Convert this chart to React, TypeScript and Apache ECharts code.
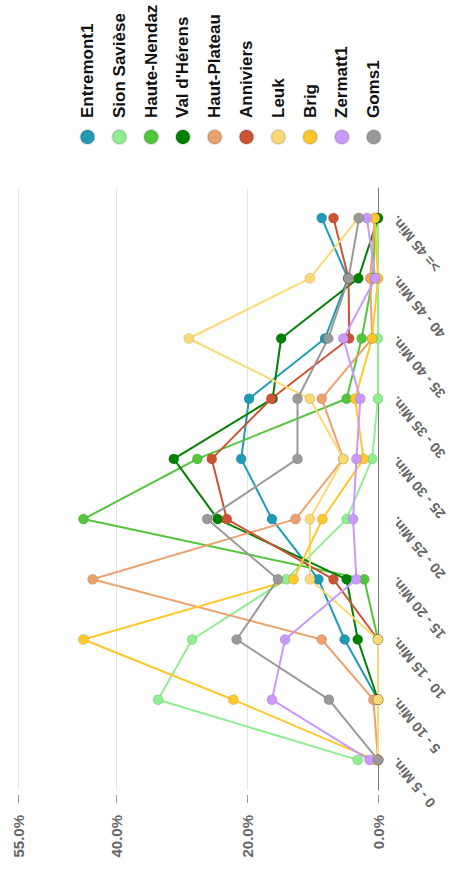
import React, { useEffect, useRef } from "react";
import * as echarts from "echarts";

const categories = [
  "0 - 5 Min.",
  "5 - 10 Min.",
  "10 - 15 Min.",
  "15 - 20 Min.",
  "20 - 25 Min.",
  "25 - 30 Min.",
  "30 - 35 Min.",
  "35 - 40 Min.",
  "40 - 45 Min.",
  ">= 45 Min.",
];

const seriesNames = [
  "Entremont1",
  "Sion Savièse",
  "Haute-Nendaz",
  "Val d'Hérens",
  "Haut-Plateau",
  "Anniviers",
  "Leuk",
  "Brig",
  "Zermatt1",
  "Goms1",
];

const entremont1 = [0, 0, 5.1, 9.1, 16.2, 20.9, 19.7, 8.1, 4.6, 8.6];
const sionSaviese = [3.1, 33.6, 28.4, 14.0, 4.8, 0.9, 0, 0, 0, 0];
const hauteNendaz = [0, 0, 0, 2.1, 45.0, 27.6, 4.8, 2.5, 0.8, 0.3];
const valDHerens = [0, 0, 3.1, 4.8, 24.5, 31.2, 16.1, 14.8, 3.0, 0];
const hautPlateau = [0, 0.7, 8.6, 43.6, 12.6, 5.3, 8.6, 0.9, 1.2, 0.5];
const anniviers = [0, 0, 0, 6.8, 23.1, 25.4, 16.3, 4.4, 4.5, 6.8];
const leuk = [0, 0, 0, 10.4, 10.4, 5.3, 10.4, 28.9, 10.4, 3.0];
const brig = [0.5, 22.1, 45.0, 12.9, 8.5, 2.2, 3.5, 0.9, 0, 0.5];
const zermatt1 = [1.3, 16.2, 14.2, 3.3, 3.8, 3.3, 2.7, 5.3, 0.4, 1.7];
const goms1 = [0, 7.5, 21.6, 15.3, 26.1, 12.3, 12.3, 7.6, 4.5, 2.9];

const seriesValues = [
  entremont1,
  sionSaviese,
  hauteNendaz,
  valDHerens,
  hautPlateau,
  anniviers,
  leuk,
  brig,
  zermatt1,
  goms1,
];

const colors = [
  "#1f9bb5",
  "#90ee90",
  "#52c63a",
  "#008000",
  "#eba26e",
  "#cd5334",
  "#fcd975",
  "#ffc82a",
  "#c999ff",
  "#999999",
];

const FONT = "'Liberation Sans', Arial, sans-serif";

export default function App() {
  const ref = useRef<HTMLDivElement>(null);

  useEffect(() => {
    document.documentElement.style.overflow = "hidden";
    document.body.style.margin = "0";
    document.body.style.overflow = "hidden";
    if (!ref.current) return;
    const chart = echarts.init(ref.current, null, {
      renderer: "svg",
      width: 876,
      height: 454,
    });
    chart.setOption({
      animation: false,
      color: colors,
      textStyle: { fontFamily: FONT },
      grid: { left: 86, right: 188, top: 18, bottom: 76, containLabel: false },
      legend: {
        orient: "vertical",
        left: 726,
        top: 74,
        itemWidth: 14,
        itemHeight: 14,
        itemGap: 14.8,
        icon: "circle",
        data: seriesNames,
        textStyle: {
          fontFamily: FONT,
          fontSize: 17,
          fontWeight: "bold",
          color: "#111",
          padding: [0, 0, 0, 7],
        },
      },
      xAxis: {
        type: "category",
        data: categories,
        boundaryGap: true,
        axisLine: { lineStyle: { color: "#777", width: 1 } },
        axisTick: {
          alignWithLabel: true,
          length: 6,
          lineStyle: { color: "#777" },
        },
        axisLabel: {
          rotate: 40,
          interval: 0,
          margin: 16,
          fontFamily: FONT,
          fontSize: 14,
          fontWeight: "bold",
          color: "#666",
        },
        splitLine: { show: false },
      },
      yAxis: {
        type: "value",
        min: 0,
        max: 55,
        interval: 20,
        offset: 5,
        axisLine: { show: false },
        axisTick: { show: true, length: 8, lineStyle: { color: "#999" } },
        axisLabel: {
          margin: 20,
          fontFamily: FONT,
          fontSize: 15,
          fontWeight: "bold",
          color: "#666",
          formatter: (v: number) => v.toFixed(1) + "%",
        },
        splitLine: { show: true, lineStyle: { color: "#e6e6e6", width: 1 } },
      },
      series: seriesNames.map((name, i) => ({
        name,
        type: "line",
        data: seriesValues[i],
        symbol: "circle",
        symbolSize: 10,
        lineStyle: { width: 2 },
        itemStyle: {
          color: colors[i],
          borderColor: "rgba(0,0,0,0.12)",
          borderWidth: 1,
        },
        emphasis: { disabled: true },
      })),
    });
    return () => {
      chart.dispose();
    };
  }, []);

  return (
    <div
      style={{
        position: "fixed",
        left: 0,
        top: 0,
        width: 454,
        height: 876,
        overflow: "hidden",
        background: "#fff",
      }}
    >
      <div
        ref={ref}
        style={{
          position: "absolute",
          left: 0,
          top: 0,
          width: 876,
          height: 454,
          transformOrigin: "0 0",
          transform: "translateY(876px) rotate(-90deg)",
        }}
      />
    </div>
  );
}
